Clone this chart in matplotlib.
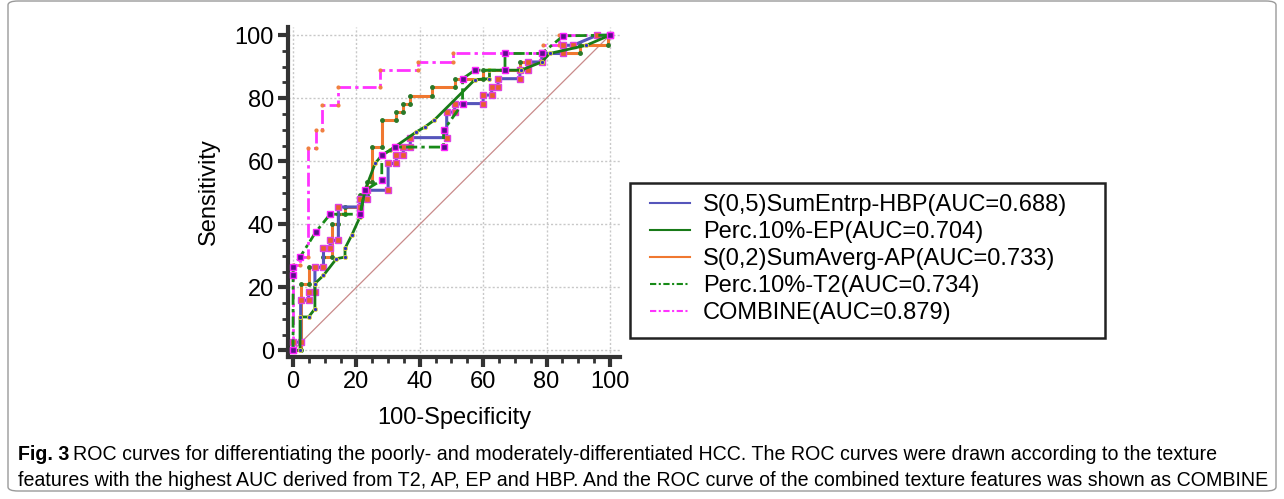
"""ROC curves (Fig. 3) - texture features for poorly vs moderately differentiated HCC."""

import matplotlib
matplotlib.use("Agg")
import matplotlib.pyplot as plt
from matplotlib.patches import FancyBboxPatch, Rectangle
from matplotlib.lines import Line2D
from matplotlib.ticker import MultipleLocator

# ── Data (100-Specificity vs Sensitivity) ─────────────────────────────────────
hbp_x = [0, 0, 2.4, 2.4, 4.9, 4.9, 6.9, 6.9, 9.6, 9.6, 11.7, 11.7, 14.3, 14.3,
         21.1, 21.1, 23.2, 23.2, 30.0, 30.0, 32.6, 32.6, 34.8, 34.8, 37.0, 37.0,
         48.5, 48.5, 51.0, 51.0, 60.0, 60.0, 62.7, 62.7, 64.7, 64.7, 71.6, 71.6,
         74.1, 74.1, 78.5, 78.5, 85.3, 85.3, 88.4, 96.0, 100]
hbp_y = [0, 2.6, 2.6, 15.9, 15.9, 18.5, 18.5, 26.4, 26.4, 32.4, 32.4, 34.9, 34.9, 45.5,
         45.5, 48.1, 48.1, 50.8, 50.8, 59.3, 59.3, 61.9, 61.9, 64.5, 64.5, 67.5,
         67.5, 75.6, 75.6, 78.3, 78.3, 81.0, 81.0, 83.6, 83.6, 86.2, 86.2, 88.9,
         88.9, 91.5, 91.5, 94.2, 94.2, 96.8, 96.8, 100, 100]

ep_x = [0, 2.2, 2.2, 4.9, 6.9, 6.9, 9.6, 13.7, 16.4, 16.4, 18.5, 21.1, 22.7, 25.9,
        28.0, 30.6, 38.9, 41.6, 44.5, 57.4, 62.0, 62.0, 72.0, 78.5, 81.0, 92.6, 100]
ep_y = [0, 0, 10.6, 10.6, 13.2, 21.2, 23.8, 29.1, 29.6, 32.4, 36.5, 42.3, 50.8, 59.3,
        61.9, 63.5, 69.3, 70.9, 73.0, 85.9, 86.2, 88.9, 88.9, 91.5, 94.2, 96.8, 100]

ap_x = [0, 2.4, 2.4, 4.9, 4.9, 9.6, 9.6, 12.2, 12.2, 14.3, 14.3, 16.4, 16.4, 21.1,
        21.1, 23.2, 23.2, 24.9, 24.9, 28.0, 28.0, 32.6, 32.6, 34.8, 34.8, 36.9, 36.9,
        43.7, 43.7, 51.1, 51.1, 60.0, 60.0, 71.6, 71.6, 78.5, 78.5, 90.5, 90.5, 99.5,
        99.5, 100]
ap_y = [0, 0, 21.2, 21.2, 26.4, 26.4, 29.6, 29.6, 40.0, 40.0, 43.4, 43.4, 45.5, 45.5,
        49.2, 49.2, 53.4, 53.4, 64.5, 64.5, 73.0, 73.0, 75.6, 75.6, 78.3, 78.3, 80.6,
        80.6, 83.6, 83.6, 86.2, 86.2, 88.9, 88.9, 91.5, 91.5, 94.2, 94.2, 96.8, 96.8,
        100, 100]

t2_x = [0, 0, 0, 2.2, 7.2, 11.7, 21.1, 22.7, 28.0, 28.0, 32.2, 47.5, 47.5, 53.5,
        53.5, 57.4, 66.9, 66.9, 78.5, 85.3, 100]
t2_y = [0, 23.8, 26.4, 29.6, 37.6, 43.2, 43.2, 50.8, 54.0, 61.9, 64.5, 64.5, 69.8,
        78.3, 86.2, 88.9, 88.9, 94.2, 94.2, 99.8, 100]

comb_x = [0, 0, 2.2, 2.2, 4.6, 4.6, 7.2, 7.2, 9.0, 9.0, 14.3, 14.3, 27.4, 27.4,
          39.4, 39.4, 50.5, 50.5, 79.0, 79.0, 84.0, 84.0, 100]
comb_y = [0, 27.0, 27.0, 29.6, 29.6, 64.2, 64.2, 69.8, 69.8, 78.0, 78.0, 83.6, 83.6,
          88.9, 88.9, 91.5, 91.5, 94.3, 94.3, 96.8, 96.8, 100, 100]

labels = ["S(0,5)SumEntrp-HBP(AUC=0.688)", "Perc.10%-EP(AUC=0.704)",
          "S(0,2)SumAverg-AP(AUC=0.733)", "Perc.10%-T2(AUC=0.734)",
          "COMBINE(AUC=0.879)"]

caption_1 = ("ROC curves for differentiating the poorly- and moderately-differentiated HCC. "
             "The ROC curves were drawn according to the texture")
caption_2 = ("features with the highest AUC derived from T2, AP, EP and HBP. And the ROC "
             "curve of the combined texture features was shown as COMBINE")

W, H = 1284, 499
plt.rcParams["font.family"] = ["Liberation Sans", "DejaVu Sans"]

fig = plt.figure(figsize=(W / 100, H / 100), dpi=100)

# outer rounded frame
fig.patches.append(FancyBboxPatch((8 / W, 8 / H), 1268 / W, 490 / H,
                                  boxstyle="round,pad=0,rounding_size=0.008",
                                  transform=fig.transFigure, fill=False,
                                  edgecolor="#9a9a9a", linewidth=1.0))

ax = fig.add_axes([288 / W, 1 - 357 / H, 332 / W, 330 / H])
ax.set_xlim(-1.6, 103.2)
ax.set_ylim(-2.1, 102.6)

ax.grid(True, which="major", color="#c8c8c8", linestyle=(0, (1.5, 1.5)), linewidth=1.0)
ax.set_axisbelow(True)

# reference diagonal
ax.plot([0, 100], [0, 100], color="#c98a8a", linewidth=0.9, zorder=2)

# curves
ax.plot(comb_x, comb_y, color="#ff33ff", linewidth=2.0,
        linestyle=(0, (5, 1.5, 1.2, 1.5)), zorder=3)
ax.plot(comb_x, comb_y, color="#f08040", linewidth=0, marker="o", markersize=2, zorder=3)

ax.plot(ap_x, ap_y, color="#f07830", linewidth=2.2, marker="o", markersize=2.5,
        markerfacecolor="#2a7a2a", markeredgecolor="#2a7a2a", zorder=4)

ax.plot(hbp_x, hbp_y, color="#5555bb", linewidth=2.2, marker="s", markersize=5,
        markerfacecolor="#e8602c", markeredgecolor="#e040e0", zorder=5)

ax.plot(ep_x, ep_y, color="#187a18", linewidth=2.0, marker="o", markersize=3,
        markerfacecolor="#3030c0", markeredgecolor="#e8e040", markeredgewidth=0.6, zorder=6)

ax.plot(t2_x, t2_y, color="#178a17", linewidth=2.0,
        linestyle=(0, (4, 1.5, 1.2, 1.5)), marker="s", markersize=5,
        markerfacecolor="#5a0f8a", markeredgecolor="#ff22ff", zorder=7)

# axes styling
for side in ("top", "right"):
    ax.spines[side].set_visible(False)
for side in ("left", "bottom"):
    ax.spines[side].set_linewidth(3)
    ax.spines[side].set_color("#333333")

ax.xaxis.set_major_locator(MultipleLocator(20))
ax.yaxis.set_major_locator(MultipleLocator(20))
ax.xaxis.set_minor_locator(MultipleLocator(5))
ax.yaxis.set_minor_locator(MultipleLocator(5))
ax.tick_params(which="major", length=7, width=3, color="#333333", labelsize=17, pad=3)
ax.tick_params(which="minor", length=4, width=2, color="#333333")
ax.set_xticks([0, 20, 40, 60, 80, 100])
ax.set_yticks([0, 20, 40, 60, 80, 100])

ax.set_xlabel("100-Specificity", fontsize=17, labelpad=10)
ax.set_ylabel("Sensitivity", fontsize=17, labelpad=11)

# legend with manual frame
fig.patches.append(Rectangle((630 / W, 1 - 338 / H), 475 / W, 155 / H,
                             transform=fig.transFigure, fill=False,
                             edgecolor="#222222", linewidth=1.8))
handles = [
    Line2D([], [], color="#5555bb", linewidth=1.5),
    Line2D([], [], color="#187a18", linewidth=1.5),
    Line2D([], [], color="#f07830", linewidth=1.5),
    Line2D([], [], color="#178a17", linewidth=1.5, linestyle=(0, (3, 1.2, 1, 1.2))),
    Line2D([], [], color="#ff33ff", linewidth=1.5, linestyle=(0, (3, 1.2, 1, 1.2))),
]
fig.legend(handles, labels, loc="upper left",
           bbox_to_anchor=(650 / W, 1 - 194 / H), bbox_transform=fig.transFigure,
           frameon=False, fontsize=17, handlelength=1.7, handletextpad=0.55,
           labelspacing=0.21, borderpad=0, borderaxespad=0)

# caption, sized so that the second line spans the same width as the original
cap_size = 14.5
probe = fig.text(0, 0, caption_2, fontsize=cap_size)
fig.canvas.draw()
cap_size *= 1250 / probe.get_window_extent().width
probe.remove()

t1 = fig.text(18 / W, 1 - 454 / H, "Fig. 3", fontsize=cap_size, fontweight="bold",
              va="center", ha="left")
fig.canvas.draw()
bb = t1.get_window_extent()
fig.text((bb.x1 + 4) / W, 1 - 454 / H, caption_1, fontsize=cap_size,
         va="center", ha="left")
fig.text(18 / W, 1 - 481 / H, caption_2, fontsize=cap_size,
         va="center", ha="left")

fig.savefig("out.png", dpi=100)
